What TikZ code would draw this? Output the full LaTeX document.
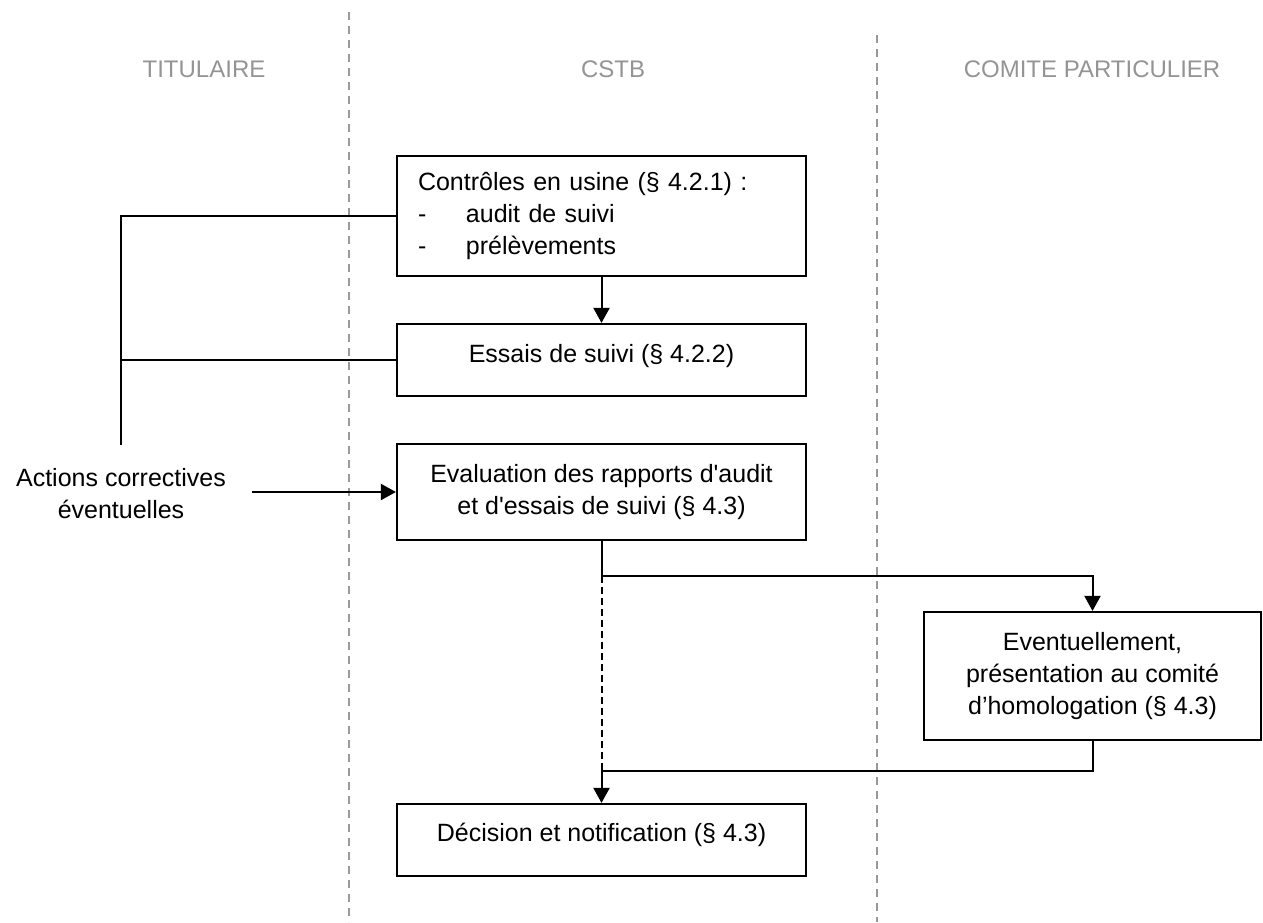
\documentclass[tikz,border=0pt]{standalone}
\usepackage{fontspec}
\setmainfont{Liberation Sans}
\usetikzlibrary{arrows.meta}

\begin{document}
\begin{tikzpicture}[x=0.5pt,y=-0.5pt,
	box/.style={draw,line width=1.1pt,minimum width=204.5pt,inner sep=0pt,align=center,font=\fontsize{12.5}{16}\selectfont},
	lane/.style={draw=black!40,line width=0.8pt,dash pattern=on 4pt off 3pt},
	title/.style={text=black!42,font=\fontsize{12}{14}\selectfont},
	link/.style={line width=1pt},
	>={Triangle[length=7.5pt,width=8pt]}]
				\useasboundingbox (0,0) rectangle (1263,922);

				% couloirs
				\draw [lane] (349,12) -- (349,922);
				\draw [lane] (877,35) -- (877,922);
				\node [title] (titulaire) at (204,69) {TITULAIRE};
				\node [title] (cstb) at (613,69) {CSTB};
				\node [title] (comitep) at (1092,69) {COMITE PARTICULIER};

				% etapes
				\node [box,minimum height=60pt,text width=183.5pt,inner xsep=10.5pt,align=left] (ctrl) at (601.5,216)
					{Contrôles en usine (§ 4.2.1) :\\
					\makebox[24pt][l]{-}audit de suivi\\
					\makebox[24pt][l]{-}prélèvements};
				\node [box,minimum height=36pt,text depth=7pt] (essais) at (601.5,360) {Essais de suivi (§ 4.2.2)};
				\node [box,minimum height=48pt] (eval) at (601.5,492)
					{Evaluation des rapports d\textquotesingle audit\\et d\textquotesingle essais de suivi (§ 4.3)};
				\node [box,minimum width=168.5pt,minimum height=64pt] (comite) at (1092.5,676)
					{Eventuellement,\\présentation au comité\\d’homologation (§ 4.3)};
				\node [box,minimum height=36pt,text depth=8pt] (decision) at (601.5,840) {Décision et notification (§ 4.3)};
				\node [align=center,inner xsep=13pt,font=\fontsize{12.5}{16}\selectfont] (actions) at (121,494)
					{Actions correctives\\éventuelles};

				\coordinate (fb) at (121,445);
				\coordinate (split) at (601.5,576);
				\coordinate (join) at (601.5,771);

				\draw [link] (ctrl.west) -| (fb);
				\draw [link] (essais.west) -- (essais.west -| fb);
				\draw [link,->] (ctrl.south) -- (essais.north);
				\draw [link,->] (actions.east |- eval.west) -- (eval.west);
				\draw [link,->] (eval.south) -- (split) -| (comite.north);
				\draw [link,dash pattern=on 3.5pt off 2pt] (split) -- (join);
				\draw [link,->] (comite.south) |- (join) -- (decision.north);
			\end{tikzpicture}
\end{document}
